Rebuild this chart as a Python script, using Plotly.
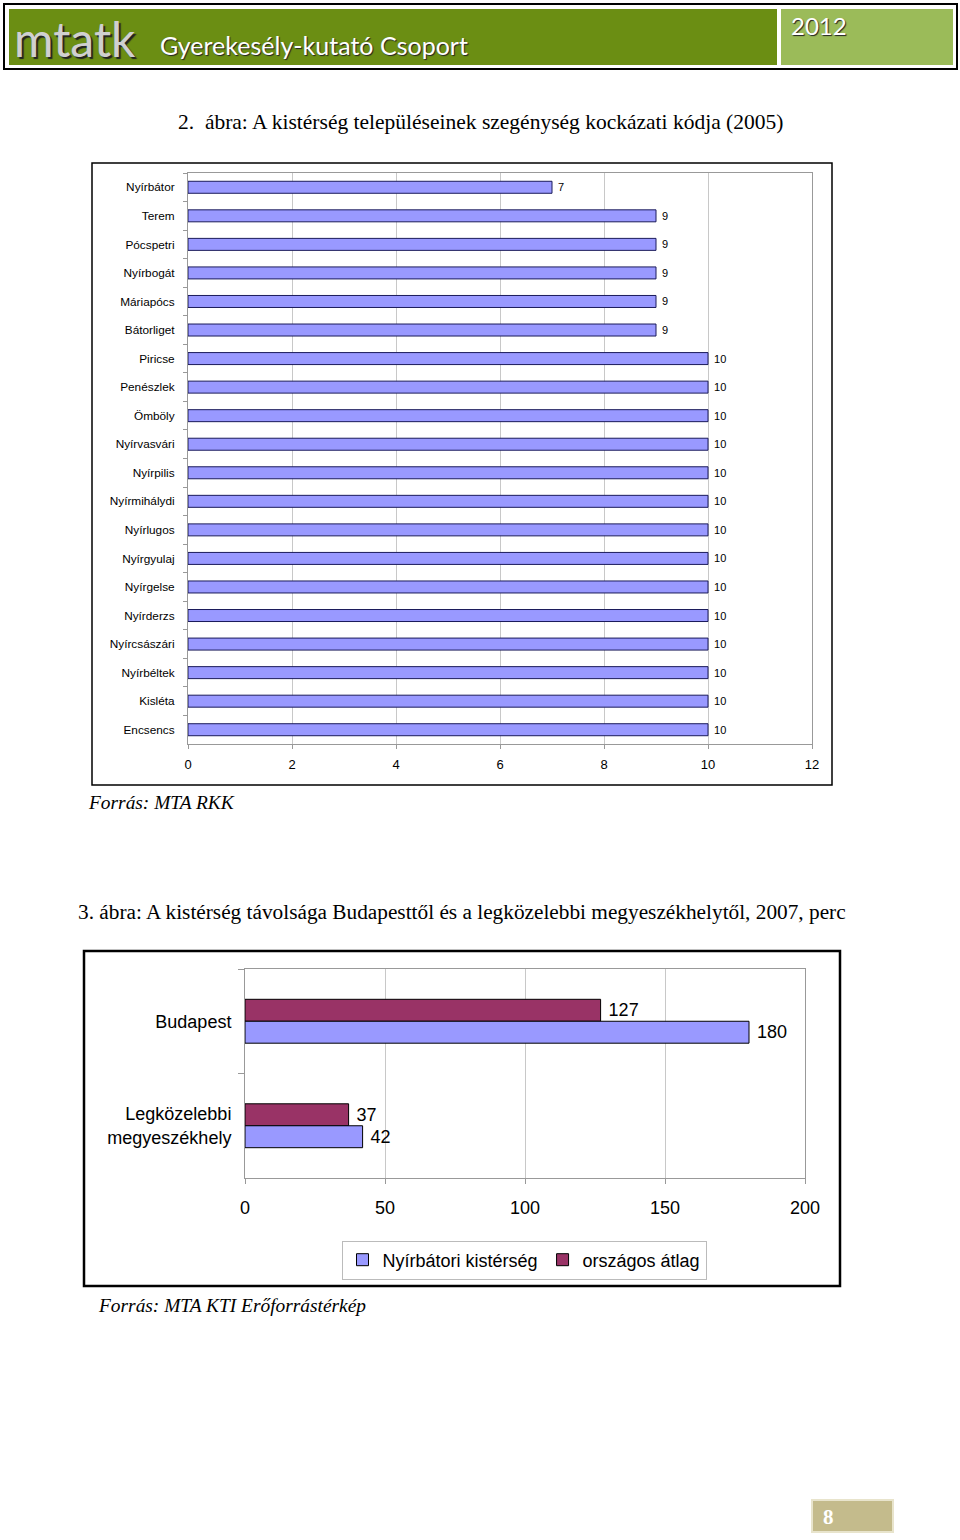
import plotly.graph_objects as go

W, H = 960, 1540

# chart 1 data: poverty risk code by settlement (2005)
settlements = [
    "Nyírbátor", "Terem", "Pócspetri", "Nyírbogát", "Máriapócs", "Bátorliget",
    "Piricse", "Penészlek", "Ömböly", "Nyírvasvári", "Nyírpilis", "Nyírmihálydi",
    "Nyírlugos", "Nyírgyulaj", "Nyírgelse", "Nyírderzs", "Nyírcsászári",
    "Nyírbéltek", "Kisléta", "Encsencs",
]
risk_code = [7, 9, 9, 9, 9, 9, 10, 10, 10, 10, 10, 10, 10, 10, 10, 10, 10, 10, 10, 10]

# chart 2 data: travel time in minutes, 2007
destinations = ["Budapest", "Legközelebbi<br>megyeszékhely"]
nyirbator_minutes = [180, 42]
national_minutes = [127, 37]

BLUE = "#9999FF"
MAROON = "#993366"
SANS = "Liberation Sans, Arial, sans-serif"
SERIF = "Liberation Serif, Times New Roman, serif"


def px(x):
    return x / W


def py(y):
    return 1 - y / H


fig = go.Figure()

fig.add_trace(
    go.Bar(
        x=risk_code,
        y=settlements,
        orientation="h",
        marker=dict(color=BLUE, line=dict(color="#1a1a5a", width=1)),
        texttemplate="\u00a0%{x}",
        textposition="outside",
        textfont=dict(family=SANS, size=11, color="black"),
        cliponaxis=False,
        showlegend=False,
        xaxis="x",
        yaxis="y",
    )
)

fig.add_trace(
    go.Bar(
        name="országos átlag",
        x=national_minutes,
        y=destinations,
        orientation="h",
        marker=dict(color=MAROON, line=dict(color="black", width=1)),
        texttemplate="\u00a0%{x}",
        textposition="outside",
        textfont=dict(family=SANS, size=18, color="black"),
        cliponaxis=False,
        legendrank=2,
        xaxis="x2",
        yaxis="y2",
    )
)
fig.add_trace(
    go.Bar(
        name="Nyírbátori kistérség",
        x=nyirbator_minutes,
        y=destinations,
        orientation="h",
        marker=dict(color=BLUE, line=dict(color="black", width=1)),
        texttemplate="\u00a0%{x}",
        textposition="outside",
        textfont=dict(family=SANS, size=18, color="black"),
        cliponaxis=False,
        legendrank=1,
        xaxis="x2",
        yaxis="y2",
    )
)

shapes = [
    # header banner
    dict(type="rect", x0=px(4), x1=px(957), y0=py(69), y1=py(4),
         line=dict(color="black", width=2), fillcolor="white"),
    dict(type="rect", x0=px(9), x1=px(777), y0=py(65), y1=py(9),
         line=dict(width=0), fillcolor="#6B8E13"),
    dict(type="rect", x0=px(781), x1=px(953), y0=py(65), y1=py(9),
         line=dict(width=0), fillcolor="#9BBB59"),
    # chart frames
    dict(type="rect", x0=px(92), x1=px(832), y0=py(785), y1=py(163),
         line=dict(color="black", width=1.5)),
    dict(type="rect", x0=px(84), x1=px(840), y0=py(1286), y1=py(951),
         line=dict(color="black", width=2.5)),
    # page number box
    dict(type="rect", x0=px(812), x1=px(893), y0=py(1532), y1=py(1500),
         line=dict(color="#E8E4CC", width=2), fillcolor="#C4BB8C"),
]

annotations = [
    dict(text="mtatk", x=px(12), y=py(39), xanchor="left", yanchor="middle",
         font=dict(family="Lato, sans-serif", size=48, color="#D0D0D0",
                   shadow="2px 2px 1px #222")),
    dict(text="Gyerekesély-kutató Csoport", x=px(158), y=py(45), xanchor="left",
         yanchor="middle",
         font=dict(family="Lato, sans-serif", size=25, color="white",
                   shadow="1px 1px 1px #222")),
    dict(text="2012", x=px(789), y=py(26), xanchor="left", yanchor="middle",
         font=dict(family="Lato, sans-serif", size=24, color="white",
                   shadow="1px 1px 1px #222")),
    dict(text="2.\u00a0\u00a0ábra: A kistérség településeinek szegénység kockázati kódja (2005)",
         x=px(480), y=py(122), xanchor="center", yanchor="middle",
         font=dict(family=SERIF, size=21.5, color="black")),
    dict(text="<i>Forrás: MTA RKK</i>", x=px(86), y=py(802), xanchor="left",
         yanchor="middle", font=dict(family=SERIF, size=19.4, color="black")),
    dict(text="3. ábra: A kistérség távolsága Budapesttől és a legközelebbi megyeszékhelytől, 2007, perc",
         x=px(462), y=py(912), xanchor="center", yanchor="middle",
         font=dict(family=SERIF, size=21.3, color="black")),
    dict(text="<i>Forrás: MTA KTI Erőforrástérkép</i>", x=px(96), y=py(1305),
         xanchor="left", yanchor="middle",
         font=dict(family=SERIF, size=19.4, color="black")),
    dict(text="<b>8</b>", x=px(828), y=py(1517), xanchor="center", yanchor="middle",
         font=dict(family=SERIF, size=21, color="white")),
]
for a in annotations:
    a.update(xref="paper", yref="paper", showarrow=False)
for s in shapes:
    s.update(xref="paper", yref="paper", layer="below")

fig.update_layout(
    width=W,
    height=H,
    margin=dict(l=0, r=0, t=0, b=0, autoexpand=False),
    paper_bgcolor="white",
    plot_bgcolor="white",
    barmode="group",
    font=dict(family=SANS, color="black"),
    shapes=shapes,
    annotations=annotations,
    xaxis=dict(
        domain=[px(188), px(812)], anchor="y", range=[0, 12], dtick=2,
        showgrid=True, gridcolor="#C8C8C8", gridwidth=1, zeroline=False,
        showline=True, linecolor="#999999", mirror=True, automargin=False,
        ticks="outside", ticklen=4, tickcolor="#999999", ticklabelstandoff=4,
        tickfont=dict(family=SANS, size=13, color="black"),
    ),
    yaxis=dict(
        domain=[py(744), py(173)], anchor="x", autorange="reversed",
        showline=True, linecolor="#999999", mirror=True, automargin=False,
        ticks="outside", ticklen=4, tickcolor="#999999", tickson="boundaries",
        ticklabelstandoff=10, showgrid=False,
        tickfont=dict(family=SANS, size=11.8, color="black"),
    ),
    xaxis2=dict(
        domain=[px(245), px(805)], anchor="y2", range=[0, 200], dtick=50,
        showgrid=True, gridcolor="#C8C8C8", gridwidth=1, zeroline=False,
        showline=True, linecolor="#999999", mirror=True, automargin=False,
        ticks="outside", ticklen=5, tickcolor="#999999", ticklabelstandoff=8,
        tickfont=dict(family=SANS, size=18, color="black"),
    ),
    yaxis2=dict(
        domain=[py(1178), py(969)], anchor="x2", autorange="reversed",
        showline=True, linecolor="#999999", mirror=True, automargin=False,
        ticks="outside", ticklen=6, tickcolor="#999999", tickson="boundaries",
        ticklabelstandoff=9, showgrid=False,
        tickfont=dict(family=SANS, size=18, color="black"),
    ),
    bargap=0.58,
    showlegend=True,
    legend=dict(
        orientation="h", x=px(524), y=py(1260), xanchor="center", yanchor="middle",
        bordercolor="#BBBBBB", borderwidth=1, bgcolor="white",
        font=dict(family=SANS, size=18, color="black"),
        itemwidth=30,
    ),
)

fig.write_html(
    "out.html",
    config={"displayModeBar": False},
    post_script="document.body.style.margin='0';",
)
